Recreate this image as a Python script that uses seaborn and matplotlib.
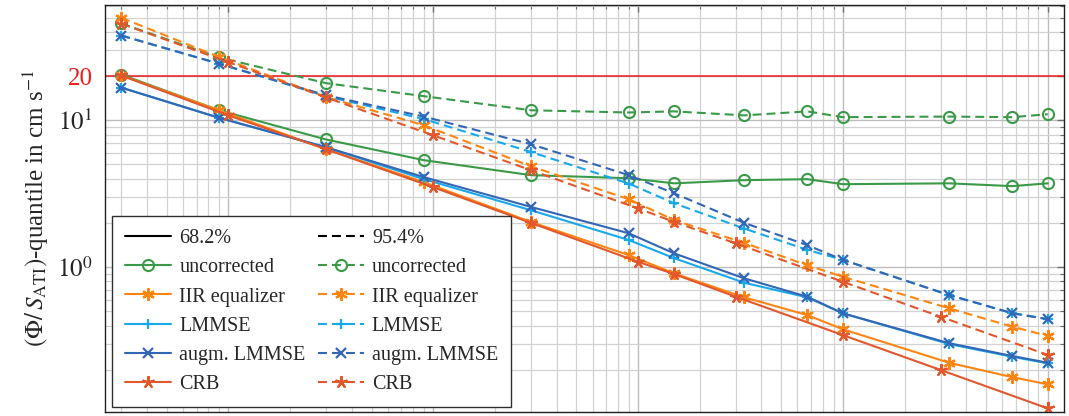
import matplotlib
matplotlib.use("Agg")
import matplotlib.pyplot as plt
import seaborn as sns
import pandas as pd
from matplotlib.lines import Line2D
from matplotlib.ticker import LogLocator, NullFormatter, FixedLocator, FixedFormatter

# Number of averaged samples for the estimators and for the bound
n_est = [3, 9, 30, 90, 300, 900, 1500, 3300, 6700, 10000, 33000, 67000, 100000]
n_crb = [3, 10, 30, 100, 300, 1000, 1500, 3000, 10000, 30000, 100000]

# 68.2 % quantiles
unc_68 = [20.5, 11.7, 7.4, 5.35, 4.23, 4.03, 3.72, 3.91, 3.97, 3.67, 3.72, 3.56, 3.72]
iir_68 = [20.2, 11.7, 6.35, 3.79, 2.03, 1.207, 0.906, 0.622, 0.471, 0.377, 0.223, 0.178, 0.159]
lmmse_68 = [16.7, 10.4, 6.55, 3.97, 2.44, 1.53, 1.15, 0.782, 0.622, 0.484, 0.299, 0.245, 0.221]
aug_68 = [16.7, 10.4, 6.55, 4.10, 2.57, 1.70, 1.24, 0.838, 0.628, 0.484, 0.303, 0.248, 0.223]
crb_68 = [20.2, 10.8, 6.35, 3.50, 2.00, 1.086, 0.896, 0.628, 0.344, 0.199, 0.109]

# 95.4 % quantiles
unc_95 = [45.7, 26.8, 17.9, 14.6, 11.7, 11.3, 11.5, 10.8, 11.5, 10.5, 10.6, 10.5, 11.0]
iir_95 = [50.0, 27.0, 14.4, 9.25, 4.86, 2.90, 2.09, 1.46, 1.03, 0.859, 0.524, 0.393, 0.340]
lmmse_95 = [37.8, 24.3, 14.6, 10.2, 6.08, 3.71, 2.72, 1.83, 1.31, 1.12, 0.645, 0.486, 0.443]
aug_95 = [37.8, 24.3, 14.8, 10.6, 6.87, 4.23, 3.18, 2.00, 1.41, 1.12, 0.645, 0.485, 0.441]
crb_95 = [45.5, 24.9, 14.3, 7.90, 4.57, 2.51, 2.03, 1.45, 0.794, 0.459, 0.252]

threshold = 20

names = ["uncorrected", "IIR equalizer", "LMMSE", "augm. LMMSE", "CRB"]
colors = ["#3a9a48", "#ff8512", "#19a9ea", "#3466b6", "#e2582c"]
markers = ["o", (6, 2, 0), "+", "x", (5, 2, 0)]
xs = [n_est, n_est, n_est, n_est, n_crb]
q68 = [unc_68, iir_68, lmmse_68, aug_68, crb_68]
q95 = [unc_95, iir_95, lmmse_95, aug_95, crb_95]

sns.set_theme(style="white")
plt.rcParams["font.family"] = ["Liberation Serif", "DejaVu Serif"]
plt.rcParams["mathtext.fontset"] = "stix"

DASH = (0, (4.3, 2.4))
LW = 1.5

fig = plt.figure(figsize=(10.69, 4.16), dpi=100)
ax = fig.add_axes([105 / 1069, 1 - 412 / 416, (1064 - 105) / 1069, (412 - 5) / 416])


def mstyle(m, c):
    if m == "o":
        return dict(marker="o", markersize=8, markerfacecolor="none",
                    markeredgecolor=c, markeredgewidth=1.5)
    size = 7 if m in ("+", "x") else 9
    return dict(marker=m, markersize=size, markeredgecolor=c, markeredgewidth=1.6)


ax.axhline(threshold, color="#ee1c1c", lw=1.1, zorder=1.5)

for name, c, m, x, a, b in zip(names, colors, markers, xs, q68, q95):
    df = pd.DataFrame({"n": x, "q68": a, "q95": b})
    sns.lineplot(data=df, x="n", y="q68", ax=ax, color=c, lw=LW, sort=False,
                 estimator=None, errorbar=None, **mstyle(m, c))
    sns.lineplot(data=df, x="n", y="q95", ax=ax, color=c, lw=LW, sort=False,
                 estimator=None, errorbar=None, linestyle=DASH, **mstyle(m, c))

ax.set_xscale("log")
ax.set_yscale("log")
ax.set_xlim(2.5, 1.2e5)
ax.set_ylim(0.103, 61)

ax.xaxis.set_major_locator(LogLocator(base=10))
ax.xaxis.set_minor_locator(LogLocator(base=10, subs=range(2, 10)))
ax.xaxis.set_major_formatter(NullFormatter())
ax.xaxis.set_minor_formatter(NullFormatter())

ax.yaxis.set_major_locator(FixedLocator([1, 10, threshold]))
ax.yaxis.set_major_formatter(FixedFormatter([r"$10^0$", r"$10^1$", "20"]))
ax.yaxis.set_minor_locator(LogLocator(base=10, subs=range(2, 10)))
ax.yaxis.set_minor_formatter(NullFormatter())
ax.get_yticklabels()[2].set_color("#ee1c1c")

ax.grid(True, which="major", color="#bdbdbd", lw=1.0)
ax.grid(True, which="minor", color="#d2d2d2", lw=0.9)
ax.set_axisbelow(True)

ax.tick_params(which="both", direction="in", top=True, right=True,
               color="#707070", labelbottom=False)
ax.tick_params(which="major", length=5, width=1.0, labelsize=18, pad=9)
ax.tick_params(which="minor", length=3, width=0.8)
for sp in ax.spines.values():
    sp.set_color("#202020")
    sp.set_linewidth(1.0)

ax.set_xlabel("")
ax.set_ylabel(r"$(\Phi/\,S_{\mathrm{ATI}})$-quantile in cm s$^{-1}$", fontsize=18, labelpad=4)

# Legend: solid column for 68.2 %, dashed column for 95.4 %
h_solid = [Line2D([], [], color="black", lw=LW)]
h_dash = [Line2D([], [], color="black", lw=LW, linestyle=DASH)]
for c, m in zip(colors, markers):
    h_solid.append(Line2D([], [], color=c, lw=LW, **mstyle(m, c)))
    h_dash.append(Line2D([], [], color=c, lw=LW, linestyle=DASH, **mstyle(m, c)))
labels = ["68.2%"] + names + ["95.4%"] + names
leg = ax.legend(h_solid + h_dash, labels, ncol=2, loc="lower left",
                bbox_to_anchor=(0.007, 0.012), borderaxespad=0, fontsize=14.5,
                frameon=True, fancybox=False, edgecolor="#303030", framealpha=1,
                handlelength=2.3, handletextpad=0.4, columnspacing=0.6,
                labelspacing=0.5, borderpad=0.65)
leg.get_frame().set_linewidth(1.0)

fig.savefig("out.png", dpi=100)
